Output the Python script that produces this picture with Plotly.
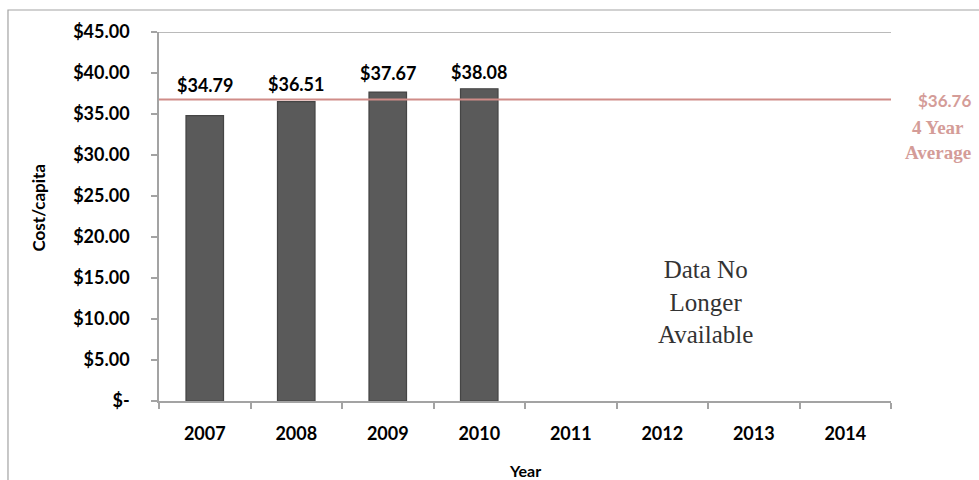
import plotly.graph_objects as go

years = ["2007", "2008", "2009", "2010", "2011", "2012", "2013", "2014"]
cost_years = ["2007", "2008", "2009", "2010"]
cost_values = [34.79, 36.51, 37.67, 38.08]
average_value = 36.76
y_ticks = [0, 5, 10, 15, 20, 25, 30, 35, 40, 45]
y_tick_labels = ["$-" if v == 0 else f"${v:.2f}" for v in y_ticks]
label_shift = [31, 18, 19, 17]

SANS = "Lato, 'Liberation Sans', sans-serif"
SERIF = "'Liberation Serif', 'DejaVu Serif', serif"
AXIS_GREY = "#a3a3a3"
AVG_LINE = "#d08c88"
AVG_TEXT = "#d49c98"

fig = go.Figure()
fig.add_trace(go.Bar(
    x=cost_years, y=cost_values,
    marker=dict(color="#5a5a5a", line=dict(color="#454545", width=1.2)),
    hoverinfo="skip",
))
fig.add_trace(go.Scatter(x=years, y=[None] * len(years), mode="markers",
                         showlegend=False, hoverinfo="skip"))

for yr, v, s in zip(cost_years, cost_values, label_shift):
    fig.add_annotation(x=years.index(yr), y=v, text=f"<b>${v:.2f}</b>", showarrow=False,
                       xref="x", yref="y", yanchor="middle", yshift=s,
                       font=dict(family=SANS, size=18, color="black"))

fig.add_shape(type="line", xref="paper", x0=0, x1=1, yref="y",
              y0=average_value, y1=average_value,
              line=dict(color=AVG_LINE, width=2))
fig.add_shape(type="line", xref="paper", x0=0, x1=1, yref="y", y0=45, y1=45,
              line=dict(color=AXIS_GREY, width=1.5))
fig.add_shape(type="rect", xref="paper", yref="paper",
              x0=-0.2063, x1=1.3, y0=-0.3, y1=1.0596,
              line=dict(color=AXIS_GREY, width=1.2), layer="below")

fig.add_annotation(xref="paper", yref="y", x=1, y=average_value, xanchor="center",
                   xshift=53, yshift=-1, text=f"<b>${average_value:.2f}</b>",
                   showarrow=False, font=dict(family=SANS, size=17, color=AVG_TEXT))
fig.add_annotation(xref="paper", yref="y", x=1, y=average_value, xanchor="center",
                   xshift=47, yshift=-28, text="<b>4 Year</b>",
                   showarrow=False, font=dict(family=SERIF, size=19, color=AVG_TEXT))
fig.add_annotation(xref="paper", yref="y", x=1, y=average_value, xanchor="center",
                   xshift=47, yshift=-53, text="<b>Average</b>",
                   showarrow=False, font=dict(family=SERIF, size=19, color=AVG_TEXT))

fig.add_annotation(xref="paper", yref="paper", x=(705 - 159) / 732, y=(401 - 302) / 369,
                   text="Data No<br>Longer<br>Available", showarrow=False,
                   xanchor="center", yanchor="middle", align="center",
                   font=dict(family=SERIF, size=25, color="#333333"))

fig.add_annotation(xref="paper", yref="paper", x=0.5, y=0, yshift=-69,
                   text="<b>Year</b>", showarrow=False, yanchor="middle",
                   font=dict(family=SANS, size=16, color="black"))
fig.add_annotation(xref="paper", yref="paper", x=0, xshift=-121, y=0.5, yshift=8,
                   text="<b>Cost/capita</b>", showarrow=False, textangle=-90,
                   xanchor="center", yanchor="middle",
                   font=dict(family=SANS, size=17, color="black"))

fig.update_layout(
    width=979, height=480,
    margin=dict(l=159, r=88, t=32, b=79),
    paper_bgcolor="white", plot_bgcolor="white",
    showlegend=False, bargap=0.59,
    xaxis=dict(type="category", categoryorder="array", categoryarray=years,
               range=[-0.5, 7.5], showline=True, linecolor=AXIS_GREY, linewidth=1.5,
               ticks="outside", ticklen=6, tickcolor=AXIS_GREY, tickwidth=1.5,
               tickson="boundaries", showgrid=False, ticklabelstandoff=16,
               tickfont=dict(family=SANS, size=18, color="black", weight="bold")),
    yaxis=dict(range=[0, 45], tickvals=y_ticks, ticktext=y_tick_labels,
               showline=True, linecolor=AXIS_GREY, linewidth=1.5,
               ticks="outside", ticklen=6, tickcolor=AXIS_GREY, tickwidth=1.5,
               showgrid=False, zeroline=False, ticklabelstandoff=18,
               tickfont=dict(family=SANS, size=18, color="black", weight="bold")),
)

fig.write_html("out.html", config={"displayModeBar": False},
               post_script="document.body.style.margin='0';document.body.style.overflow='hidden';")
